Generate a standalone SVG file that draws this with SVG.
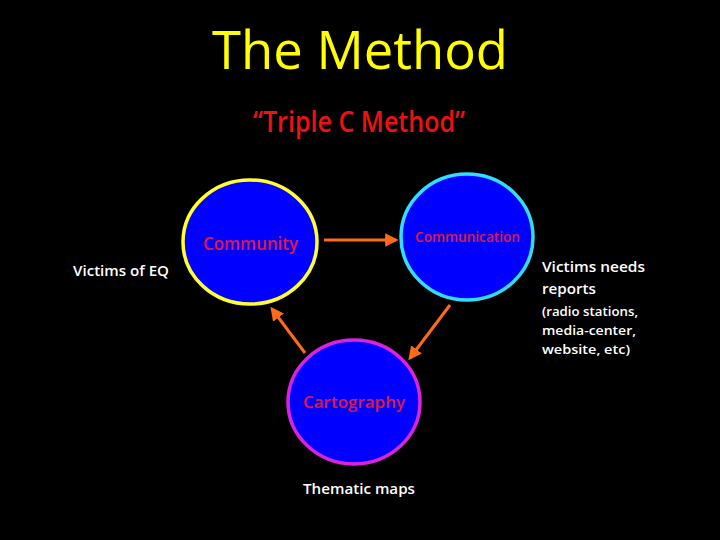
<svg xmlns="http://www.w3.org/2000/svg" width="720" height="540" viewBox="0 0 720 540">
<style>
text{font-family:"Open Sans","Liberation Sans",sans-serif}
.node{fill:#0000ff;stroke-width:3.5}
.lbl{fill:#e0183c;font-weight:600}
.wt{fill:#ffffff;font-weight:600}
.conn{stroke:#ff6a1a;stroke-width:3;fill:none;marker-end:url(#ah)}
</style>
<defs>
<marker id="ah" viewBox="0 0 10 10" refX="8" refY="5" markerWidth="4.5" markerHeight="4.5" orient="auto" markerUnits="strokeWidth">
<path d="M0,0 L10,5 L0,10 z" fill="#ff6a1a"/>
</marker>
</defs>
<rect x="0" y="0" width="720" height="540" fill="#000000"/>
<text x="212" y="69" font-size="53" fill="#ffff00" font-weight="500" textLength="296" lengthAdjust="spacingAndGlyphs">The Method</text>
<text x="253" y="132" font-size="28" fill="#ee1111" font-weight="600" textLength="212" lengthAdjust="spacingAndGlyphs">“Triple C Method”</text>
<g id="community">
<ellipse class="node" cx="250" cy="242" rx="67" ry="62" stroke="#ffff33"/>
<text class="lbl" x="203" y="250" font-size="18" textLength="95" lengthAdjust="spacingAndGlyphs">Community</text>
</g>
<g id="communication">
<ellipse class="node" cx="467" cy="237" rx="66" ry="63" stroke="#33ddff"/>
<text class="lbl" x="415" y="242" font-size="14" textLength="105" lengthAdjust="spacingAndGlyphs">Communication</text>
</g>
<g id="cartography">
<ellipse class="node" cx="354" cy="402" rx="66" ry="62" stroke="#dd22dd"/>
<text class="lbl" x="303" y="408" font-size="17" textLength="102" lengthAdjust="spacingAndGlyphs">Cartography</text>
</g>
<g id="connectors">
<line class="conn" x1="324" y1="240" x2="396" y2="240"/>
<line class="conn" x1="305" y1="353" x2="272" y2="309"/>
<line class="conn" x1="450" y1="305" x2="410" y2="358"/>
</g>
<g id="labels">
<text class="wt" x="73" y="276" font-size="15" textLength="96" lengthAdjust="spacingAndGlyphs">Victims of EQ</text>
<text class="wt" x="303" y="494" font-size="15" textLength="112" lengthAdjust="spacingAndGlyphs">Thematic maps</text>
<text class="wt" x="542" y="272" font-size="15" textLength="103" lengthAdjust="spacingAndGlyphs">Victims needs</text>
<text class="wt" x="542" y="294" font-size="15" textLength="54" lengthAdjust="spacingAndGlyphs">reports</text>
<text class="wt" x="542" y="316" font-size="13" font-weight="400" textLength="96" lengthAdjust="spacingAndGlyphs">(radio stations,</text>
<text class="wt" x="542" y="335" font-size="13" font-weight="400" textLength="94" lengthAdjust="spacingAndGlyphs">media-center,</text>
<text class="wt" x="542" y="354" font-size="13" font-weight="400" textLength="88" lengthAdjust="spacingAndGlyphs">website, etc)</text>
</g>
</svg>
